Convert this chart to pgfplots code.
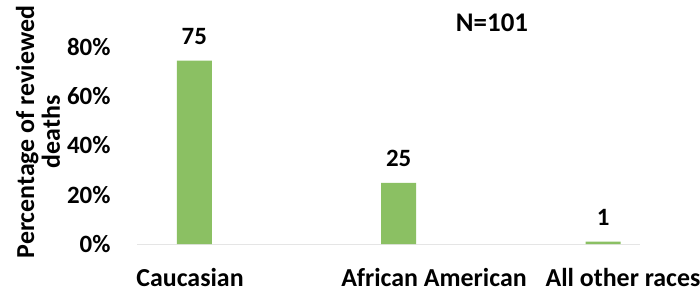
\documentclass[border=0pt]{standalone}
\usepackage{pgfplots}
\pgfplotsset{compat=1.18}
\usepackage{fontspec}
\setmainfont{Carlito}
\definecolor{barg}{HTML}{8BC063}
\begin{document}
\fontsize{25}{28}\selectfont
\begin{tikzpicture}
\useasboundingbox (-137bp,-48bp) rectangle (563bp,244bp);
\begin{axis}[
  scale only axis,
  width=503bp, height=197.5bp,
  at={(0,0)}, anchor=south west,
  xmin=-0.28, xmax=2.18,
  ymin=0, ymax=80,
  clip=false,
  axis y line*=left,
  axis x line*=bottom,
  y axis line style={draw=none},
  x axis line style={draw=black!10, line width=1pt, -},
  xtick=\empty,
  ytick={0,20,40,60,80},
  major tick length=0pt,
  yticklabel={\pgfmathprintnumber{\tick}\%},
  yticklabel style={font=\fontsize{25}{28}\selectfont\bfseries, xshift=-18bp},
  /pgf/number format/assume math mode=true,
  ybar, bar width=35bp,
  nodes near coords={\pgfmathprintnumber{\pgfplotspointmeta}},
  point meta=explicit,
  every node near coord/.append style={font=\fontsize{25}{28}\selectfont\bfseries, yshift=8bp, text=black},
]
\addplot[fill=barg, draw=none] coordinates {(0,74.26) [75] (1,24.75) [25] (2,0.99) [1]};
\end{axis}
\node[font=\fontsize{26}{30}\selectfont\bfseries] at (53bp,-34bp) {Caucasian};
\node[font=\fontsize{26}{30}\selectfont\bfseries] at (297bp,-34bp) {African American};
\node[font=\fontsize{26}{30}\selectfont\bfseries] at (486bp,-34bp) {All other races};
\node[font=\fontsize{27}{32}\selectfont\bfseries] at (355bp,221bp) {N=101};
\node[rotate=90, align=center, font=\fontsize{26}{26}\selectfont\bfseries] at (-99bp,112bp) {Percentage of reviewed\\deaths};
\end{tikzpicture}
\end{document}
